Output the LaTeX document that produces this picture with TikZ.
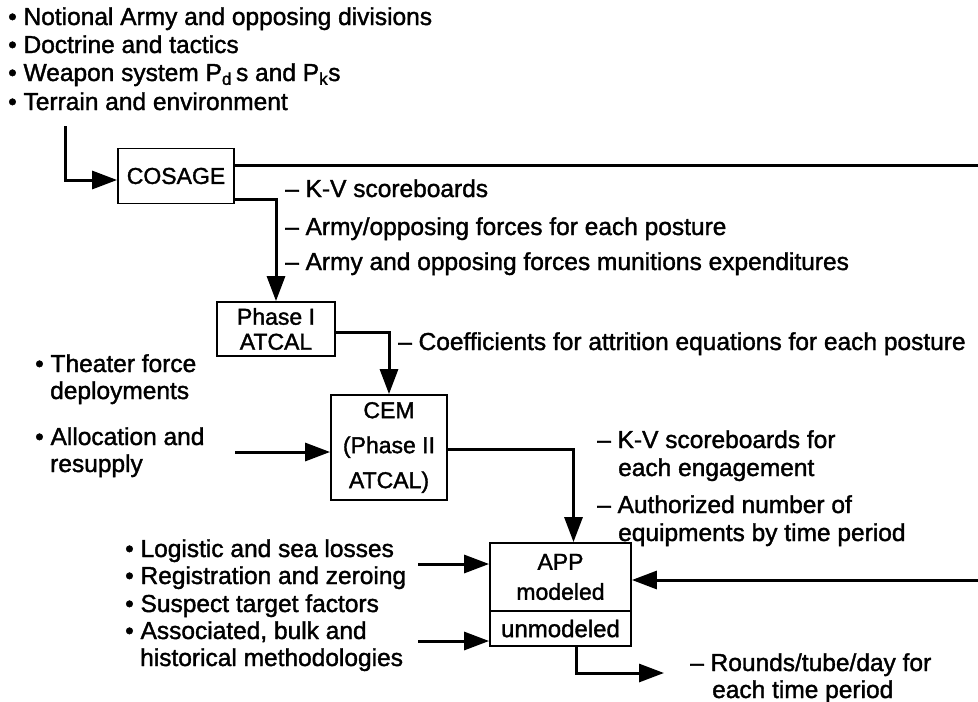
\documentclass[tikz,border=0pt]{standalone}
\usepackage{fontspec}
\setmainfont{Liberation Sans}[FakeBold=1.5]
\usetikzlibrary{arrows.meta,calc}
\begin{document}
\begin{tikzpicture}[x=1pt,y=-1pt,
  every node/.style={font=\fontsize{24.5}{28}\selectfont, inner sep=0pt},
  txt/.style={anchor=base west},
  blk/.style={draw, line width=1.8pt, align=center},
  conn/.style={line width=3pt},
  arr/.style={conn, -{Triangle[length=25pt,width=18pt]}}]
\useasboundingbox[fill=white] (0,0) rectangle (978,702);

% input lists
\node[txt] (n1) at (8,25) {• Notional Army and opposing divisions};
\node[txt] (n2) at (8,53) {• Doctrine and tactics};
\node[txt] (n3) at (8,81) {• Weapon system P\textsubscript{d}\,s and P\textsubscript{k}s};
\node[txt] (n4) at (8,110) {• Terrain and environment};

\node[txt] (t1) at (35,372) {• Theater force};
\node[txt] (t2) at (50,399) {deployments};
\node[txt] (t3) at (35,445) {• Allocation and};
\node[txt] (t4) at (50,472) {resupply};

\node[txt] (l1) at (125,557) {• Logistic and sea losses};
\node[txt] (l2) at (125,584) {• Registration and zeroing};
\node[txt] (l3) at (125,612) {• Suspect target factors};
\node[txt] (l4) at (125,639) {• Associated, bulk and};
\node[txt] (l5) at (140,666) {historical methodologies};

% outputs
\node[txt] (c1) at (285,197) {– K-V scoreboards};
\node[txt] (c2) at (285,235) {– Army/opposing forces for each posture};
\node[txt] (c3) at (285,270) {– Army and opposing forces munitions expenditures};
\node[txt] (p1) at (398,350) {– Coefficients for attrition equations for each posture};
\node[txt] (e1) at (597,448) {– K-V scoreboards for};
\node[txt] (e2) at (618,476) {each engagement};
\node[txt] (e3) at (597,513) {– Authorized number of};
\node[txt] (e4) at (618,541) {equipments by time period};
\node[txt] (r1) at (690,671) {– Rounds/tube/day for};
\node[txt] (r2) at (712,698) {each time period};

% model blocks
\node[blk, minimum width=116pt, minimum height=55pt,
      font=\fontsize{23}{25}\selectfont] (cosage) at (176,176) {COSAGE};
\node[blk, minimum width=118pt, minimum height=54pt,
      font=\fontsize{23}{25}\selectfont] (phase1) at (276,329) {Phase I\\ATCAL};
\node[blk, minimum width=116pt, minimum height=105pt,
      font=\fontsize{23}{35}\selectfont] (cem) at (389,447.5) {CEM\\(Phase II\\ATCAL)};
\node[blk, minimum width=141pt, minimum height=68pt,
      font=\fontsize{23}{30}\selectfont] (app) at (560.5,577) {APP\\modeled};
\node[blk, minimum width=141pt, minimum height=35pt,
      font=\fontsize{24}{26}\selectfont] (appu) at (560.5,628.5) {unmodeled};

% free connector ends
\coordinate (inTop) at (65,126);
\coordinate (outTop) at (978,165);
\coordinate (inTheater) at (235,452);
\coordinate (inLog) at (418,564);
\coordinate (inAssoc) at (418,641);
\coordinate (inRight) at (978,580);
\coordinate (outRounds) at (664,673);

% connectors
\draw[arr] (inTop) |- ($(cosage.west)+(0,4)$);
\draw[conn] ($(cosage.east)+(0,-11)$) -- (outTop);
\draw[arr] ($(cosage.east)+(0,23)$) -| (phase1.north);
\draw[arr] ($(phase1.east)+(0,3)$) -| (cem.north);
\draw[arr] (inTheater) -- (cem.west |- inTheater);
\draw[arr] ($(cem.east)+(0,1.5)$) -| ([xshift=13pt]app.north);
\draw[arr] (inLog) -- (app.west |- inLog);
\draw[arr] (inAssoc) -- (appu.west |- inAssoc);
\draw[arr] (inRight) -- (app.east |- inRight);
\draw[arr] ([xshift=16pt]appu.south) |- (outRounds);
\end{tikzpicture}
\end{document}
